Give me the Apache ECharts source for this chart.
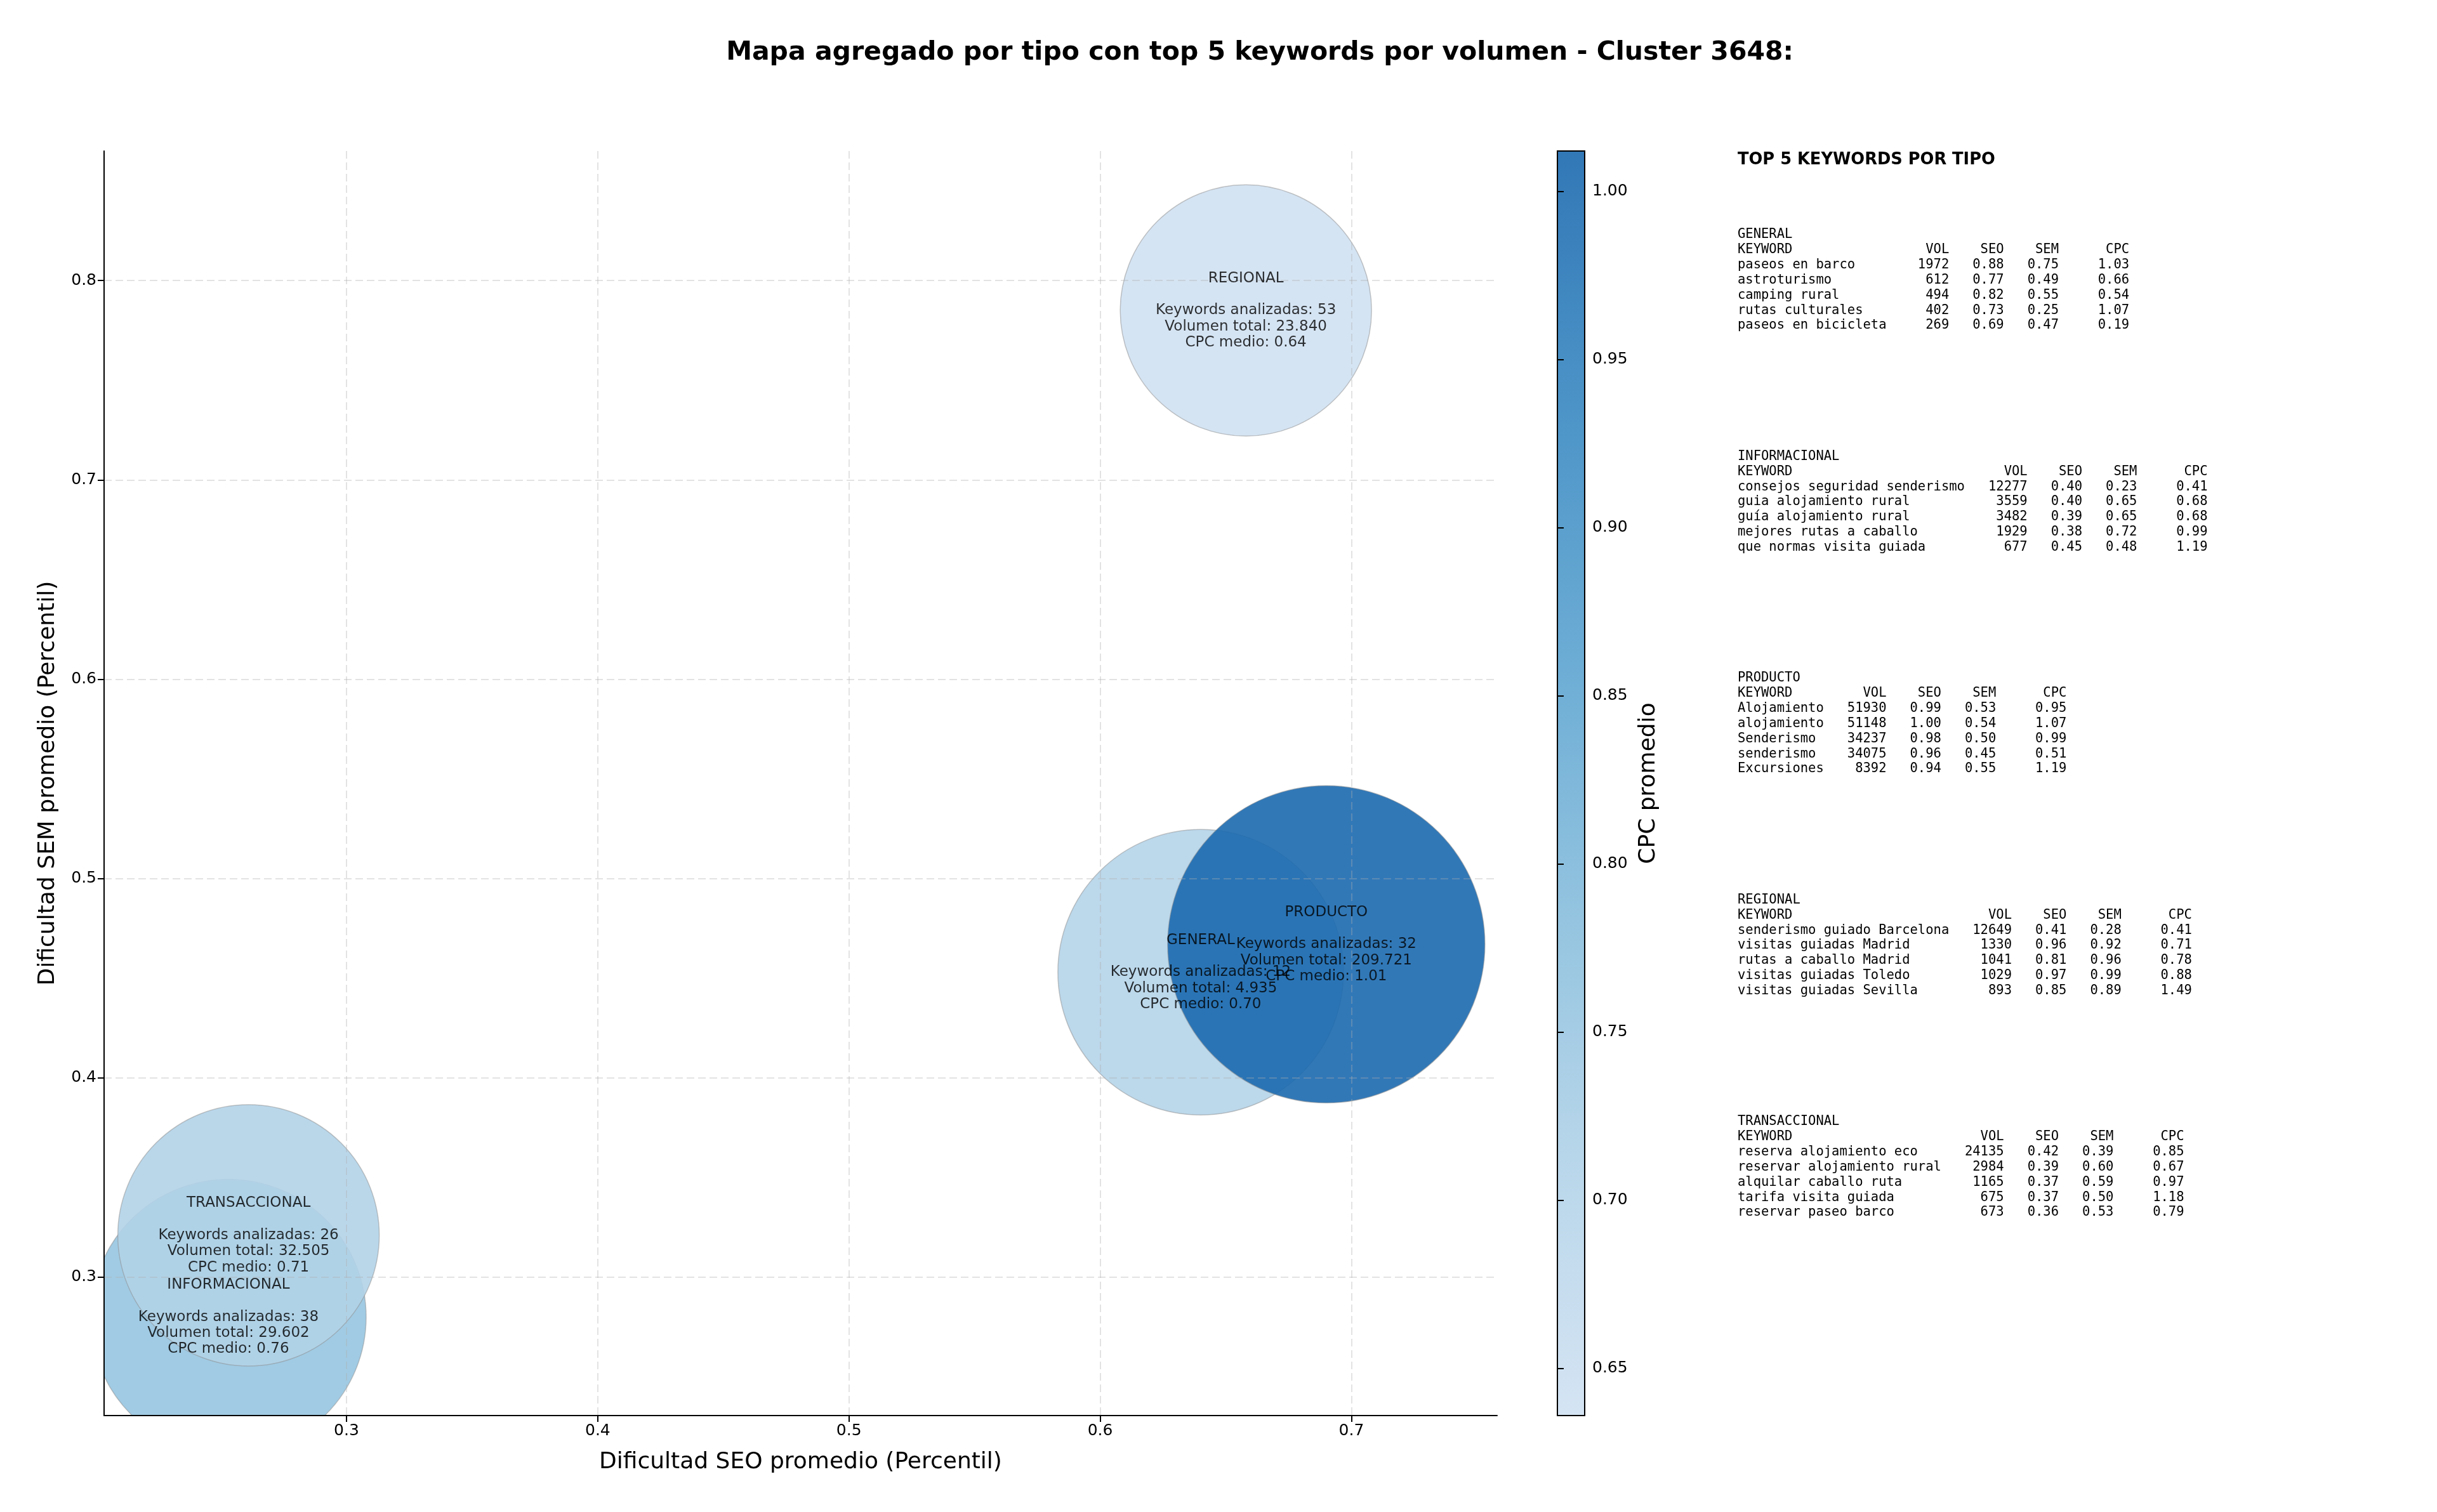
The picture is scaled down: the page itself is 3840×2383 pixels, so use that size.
<!DOCTYPE html>
<html>
<head>
<meta charset="utf-8">
<title>Mapa agregado por tipo - Cluster 3648</title>
<script src="https://cdn.jsdelivr.net/npm/echarts@6/dist/echarts.min.js"></script>
<style>
    html, body { margin: 0; padding: 0; background: #fff; }
    #main { width: 3840px; height: 2383px; }
</style>
</head>
<body>
<div id="main"></div>
<script>
// datos agregados por tipo (orden de dibujo)
const tipos = ['GENERAL', 'INFORMACIONAL', 'PRODUCTO', 'REGIONAL', 'TRANSACCIONAL'];
const seoMedio = [0.640, 0.253, 0.690, 0.658, 0.261];
const semMedio = [0.453, 0.280, 0.467, 0.785, 0.321];
const cpcMedio = [0.702, 0.757, 1.012, 0.636, 0.708];
const keywordsAnalizadas = [12, 38, 32, 53, 26];
const volumenTotal = [4935, 29602, 209721, 23840, 32505];

// top 5 keywords por tipo: [keyword, vol, seo, sem, cpc]
const topGeneral = [
    ['paseos en barco', 1972, 0.88, 0.75, 1.03],
    ['astroturismo', 612, 0.77, 0.49, 0.66],
    ['camping rural', 494, 0.82, 0.55, 0.54],
    ['rutas culturales', 402, 0.73, 0.25, 1.07],
    ['paseos en bicicleta', 269, 0.69, 0.47, 0.19]
];
const topInformacional = [
    ['consejos seguridad senderismo', 12277, 0.40, 0.23, 0.41],
    ['guia alojamiento rural', 3559, 0.40, 0.65, 0.68],
    ['guía alojamiento rural', 3482, 0.39, 0.65, 0.68],
    ['mejores rutas a caballo', 1929, 0.38, 0.72, 0.99],
    ['que normas visita guiada', 677, 0.45, 0.48, 1.19]
];
const topProducto = [
    ['Alojamiento', 51930, 0.99, 0.53, 0.95],
    ['alojamiento', 51148, 1.00, 0.54, 1.07],
    ['Senderismo', 34237, 0.98, 0.50, 0.99],
    ['senderismo', 34075, 0.96, 0.45, 0.51],
    ['Excursiones', 8392, 0.94, 0.55, 1.19]
];
const topRegional = [
    ['senderismo guiado Barcelona', 12649, 0.41, 0.28, 0.41],
    ['visitas guiadas Madrid', 1330, 0.96, 0.92, 0.71],
    ['rutas a caballo Madrid', 1041, 0.81, 0.96, 0.78],
    ['visitas guiadas Toledo', 1029, 0.97, 0.99, 0.88],
    ['visitas guiadas Sevilla', 893, 0.85, 0.89, 1.49]
];
const topTransaccional = [
    ['reserva alojamiento eco', 24135, 0.42, 0.39, 0.85],
    ['reservar alojamiento rural', 2984, 0.39, 0.60, 0.67],
    ['alquilar caballo ruta', 1165, 0.37, 0.59, 0.97],
    ['tarifa visita guiada', 675, 0.37, 0.50, 1.18],
    ['reservar paseo barco', 673, 0.36, 0.53, 0.79]
];

// ticks
const xTicks = [0.3, 0.4, 0.5, 0.6, 0.7];
const yTicks = [0.3, 0.4, 0.5, 0.6, 0.7, 0.8];
const cbTicks = [0.65, 0.70, 0.75, 0.80, 0.85, 0.90, 0.95, 1.00];

// estilo
const diametros = [450, 434, 500, 396, 412];
const blues = ['#d0e1f2', '#b1d2e8', '#87bddc', '#5ba3d0', '#3888c1', '#1b69af'];
const ALPHA = 0.9;
const FONT = 'DejaVu Sans';
const MONO = 'DejaVu Sans Mono';

function rgba(hex, a) {
    const n = parseInt(hex.slice(1), 16);
    return 'rgba(' + (n >> 16) + ',' + ((n >> 8) & 255) + ',' + (n & 255) + ',' + a + ')';
}
function miles(v) {
    return String(v).replace(/\B(?=(\d{3})+(?!\d))/g, '.');
}
function pad(s, n, izq) {
    s = String(s);
    while (s.length < n) s = izq ? ' ' + s : s + ' ';
    return s;
}
function tabla(titulo, filas) {
    const w = Math.max.apply(null, filas.map(f => f[0].length));
    const lines = [titulo,
        pad('KEYWORD', w) + pad('VOL', 8, true) + pad('SEO', 7, true) + pad('SEM', 7, true) + pad('CPC', 9, true)];
    filas.forEach(f => {
        lines.push(pad(f[0], w) + pad(f[1], 8, true) + pad(f[2].toFixed(2), 7, true) +
            pad(f[3].toFixed(2), 7, true) + pad(f[4].toFixed(2), 9, true));
    });
    return lines.join('\n');
}

const cpcMin = Math.min.apply(null, cpcMedio);
const cpcMax = Math.max.apply(null, cpcMedio);

const bloques = [
    ['GENERAL', topGeneral],
    ['INFORMACIONAL', topInformacional],
    ['PRODUCTO', topProducto],
    ['REGIONAL', topRegional],
    ['TRANSACCIONAL', topTransaccional]
];
const graficos = [
    {
        type: 'text', x: 1985, y: 83,
        style: {
            text: 'Mapa agregado por tipo con top 5 keywords por volumen - Cluster 3648:',
            fontFamily: FONT, fontSize: 41, fontWeight: 'bold', fill: '#000',
            align: 'center', verticalAlign: 'middle'
        }
    },
    {
        type: 'text', x: 2738, y: 252,
        style: {
            text: 'TOP 5 KEYWORDS POR TIPO', fontFamily: FONT, fontSize: 25.7, fontWeight: 'bold',
            fill: '#000', align: 'left', verticalAlign: 'middle'
        }
    }
];
bloques.forEach((b, i) => {
    graficos.push({
        type: 'text', x: 2738, y: 370 + i * 349.5 - 11.9,
        style: {
            text: tabla(b[0], b[1]), fontFamily: MONO, fontSize: 20.5, lineHeight: 23.85,
            fill: '#000', align: 'left', verticalAlign: 'top'
        }
    });
});

const puntos = tipos.map((t, i) => ({ name: t, value: [seoMedio[i], semMedio[i], cpcMedio[i]] }));

const gridLine = { show: true, lineStyle: { color: 'rgba(175,175,175,0.35)', width: 2, type: [12, 6] } };
const axisBlack = { show: true, onZero: false, lineStyle: { color: '#000', width: 2 } };

const chart = echarts.init(document.getElementById('main'));
chart.setOption({
    animation: false,
    textStyle: { fontFamily: FONT },
    graphic: graficos,
    grid: [
        { left: 164, top: 238, width: 2195, height: 1993, outerBoundsMode: 'none' },
        {
            left: 2454, top: 238, width: 43, height: 1993, outerBoundsMode: 'none',
            show: true, borderColor: '#000', borderWidth: 2,
            backgroundColor: {
                type: 'linear', x: 0, y: 0, x2: 0, y2: 1,
                colorStops: blues.slice().reverse().map((c, i) => ({ offset: i / (blues.length - 1), color: rgba(c, ALPHA) }))
            }
        }
    ],
    visualMap: {
        show: false, type: 'continuous', seriesIndex: 0, dimension: 2,
        min: cpcMin, max: cpcMax, inRange: { color: blues }
    },
    xAxis: [
        {
            type: 'value', gridIndex: 0, min: 0.2035, max: 0.758, z: 3,
            axisLine: axisBlack,
            axisTick: { show: true, customValues: xTicks, length: 10, lineStyle: { color: '#000', width: 2 } },
            axisLabel: { customValues: xTicks, formatter: v => v.toFixed(1), fontSize: 25, color: '#000', margin: 12 },
            splitLine: gridLine,
            name: 'Dificultad SEO promedio (Percentil)', nameLocation: 'middle', nameGap: 56,
            nameMoveOverlap: false,
            nameTextStyle: { fontSize: 36, color: '#000' }
        },
        { type: 'value', gridIndex: 1, show: false, min: 0, max: 1 }
    ],
    yAxis: [
        {
            type: 'value', gridIndex: 0, min: 0.2306, max: 0.865, z: 3,
            axisLine: axisBlack,
            axisTick: { show: true, customValues: yTicks, length: 10, lineStyle: { color: '#000', width: 2 } },
            axisLabel: { customValues: yTicks, formatter: v => v.toFixed(1), fontSize: 25, color: '#000', margin: 12 },
            splitLine: gridLine,
            name: 'Dificultad SEM promedio (Percentil)', nameLocation: 'middle', nameGap: 70,
            nameMoveOverlap: false,
            nameTextStyle: { fontSize: 36, color: '#000' }
        },
        {
            type: 'value', gridIndex: 1, min: cpcMin, max: cpcMax, position: 'right', z: 3,
            axisLine: { show: false },
            axisTick: { show: true, customValues: cbTicks, length: 10, lineStyle: { color: '#000', width: 2 } },
            axisLabel: { customValues: cbTicks, formatter: v => v.toFixed(2), fontSize: 25, color: '#000', margin: 12 },
            splitLine: { show: false },
            name: 'CPC promedio', nameLocation: 'middle', nameGap: 83, nameRotate: 90,
            nameMoveOverlap: false,
            nameTextStyle: { fontSize: 36, color: '#000' }
        }
    ],
    series: [
        {
            type: 'custom',
            xAxisIndex: 0, yAxisIndex: 0,
            clip: true, z: 2,
            encode: { x: 0, y: 1 },
            data: puntos,
            renderItem: function (params, api) {
                const c = api.coord([api.value(0), api.value(1)]);
                return {
                    type: 'circle',
                    shape: { cx: c[0], cy: c[1], r: diametros[params.dataIndex] / 2 },
                    style: {
                        fill: api.visual('color'), stroke: 'rgba(140,140,140,0.55)',
                        lineWidth: 1.5, opacity: ALPHA
                    }
                };
            }
        },
        {
            type: 'scatter',
            xAxisIndex: 0, yAxisIndex: 0,
            z: 5, silent: true,
            symbolSize: 1,
            itemStyle: { color: 'rgba(0,0,0,0)' },
            data: puntos,
            label: {
                show: true, position: 'inside', color: '#000', fontSize: 23, lineHeight: 25.3,
                align: 'center', verticalAlign: 'middle',
                formatter: p => {
                    const i = p.dataIndex;
                    return tipos[i] + '\n\nKeywords analizadas: ' + keywordsAnalizadas[i] +
                        '\nVolumen total: ' + miles(volumenTotal[i]) +
                        '\nCPC medio: ' + cpcMedio[i].toFixed(2);
                }
            },
            emphasis: { disabled: true }
        }
    ]
});
</script>
</body>
</html>
